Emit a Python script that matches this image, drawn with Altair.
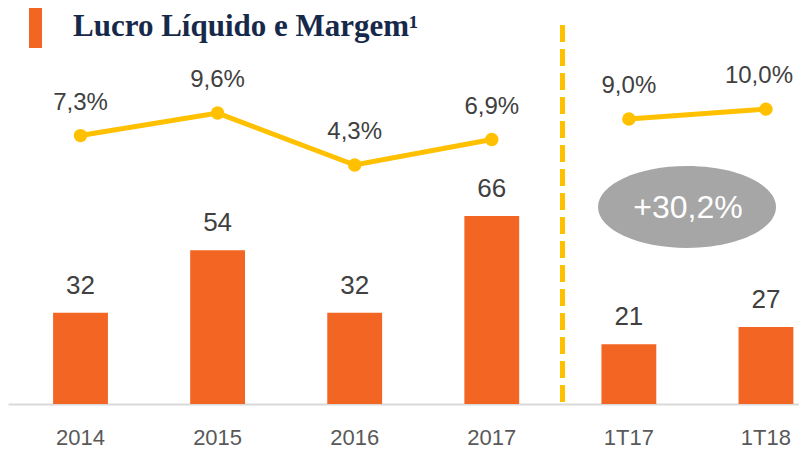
import altair as alt
import pandas as pd

# ---- data ----
categories = ["2014", "2015", "2016", "2017", "1T17", "1T18"]
lucro = [32, 54, 32, 66, 21, 27]
lucro_labels = ["32", "54", "32", "66", "21", "27"]
margem = [7.3, 9.6, 4.3, 6.9, 9.0, 10.0]
margem_labels = ["7,3%", "9,6%", "4,3%", "6,9%", "9,0%", "10,0%"]
grupo = ["Anual", "Anual", "Anual", "Anual", "Trimestral", "Trimestral"]
titulo = ["Lucro Líquido e Margem¹"]
crescimento = ["+30,2%"]

df = pd.DataFrame({
    "cat": categories,
    "lucro": lucro,
    "lucro_lbl": lucro_labels,
    "margem": margem,
    "margem_lbl": margem_labels,
    "grupo": grupo,
})

ORANGE = "#F26522"
YELLOW = "#FFC000"
GRAY_TXT = "#404040"

x_enc = alt.X(
    "cat:N",
    sort=categories,
    scale=alt.Scale(paddingInner=0.6, paddingOuter=0.185, align=0.889),
    axis=alt.Axis(
        title=None, labelAngle=0, ticks=False, domainColor="#D9D9D9",
        domainWidth=2, labelFontSize=22, labelColor="#595959",
        labelFont="Liberation Sans", labelPadding=23, grid=False,
    ),
)
y_bar = alt.Y("lucro:Q", scale=alt.Scale(domain=[0, 139], nice=False, zero=True), axis=None)
y_line = alt.Y("margem:Q", scale=alt.Scale(domain=[-20.09, 20.32], nice=False, zero=False), axis=None)

base = alt.Chart(df)

bars = base.mark_bar(color=ORANGE).encode(x=x_enc, y=y_bar)
bar_text = base.mark_text(
    dy=-19, baseline="alphabetic", fontSize=26, font="Liberation Sans", color=GRAY_TXT
).encode(x=x_enc, y=y_bar, text="lucro_lbl:N")

line = base.mark_line(color=YELLOW, strokeWidth=5).encode(x=x_enc, y=y_line, detail="grupo:N")
points = base.mark_circle(color=YELLOW, size=180, opacity=1).encode(x=x_enc, y=y_line)
line_text = base.transform_filter(alt.datum.cat != "1T18").mark_text(
    dy=-26, baseline="alphabetic", fontSize=24, font="Liberation Sans", color=GRAY_TXT
).encode(x=x_enc, y=y_line, text="margem_lbl:N")
line_text_last = base.transform_filter(alt.datum.cat == "1T18").mark_text(
    dy=-26, dx=-7, baseline="alphabetic", fontSize=24, font="Liberation Sans", color=GRAY_TXT
).encode(x=x_enc, y=y_line, text="margem_lbl:N")

sep = alt.Chart(pd.DataFrame({"k": [0]})).mark_rule(
    color=YELLOW, strokeWidth=5, strokeDash=[17, 7]
).encode(x=alt.value(554.5), y=alt.value(17), y2=alt.value(396))

ell_df = pd.DataFrame({"t": crescimento})
ellipse = alt.Chart(ell_df).mark_point(
    shape="M-1,0 A1,0.46 0 1,1 1,0 A1,0.46 0 1,1 -1,0 Z",
    filled=True, color="#A6A6A6", opacity=1, size=31684, strokeWidth=0,
).encode(x=alt.value(679), y=alt.value(199))
ell_text = alt.Chart(ell_df).mark_text(
    fontSize=32, font="Liberation Sans", color="white", align="center", baseline="middle"
).encode(x=alt.value(680), y=alt.value(200), text="t:N")

title_df = pd.DataFrame({"t": titulo})
title_txt = alt.Chart(title_df).mark_text(
    fontSize=31, font="Liberation Serif", fontWeight="bold", color="#17294A",
    align="left", baseline="alphabetic",
).encode(x=alt.value(65), y=alt.value(28), text="t:N")
title_rect = alt.Chart(title_df).mark_rect(color=ORANGE).encode(
    x=alt.value(21), x2=alt.value(34), y=alt.value(0), y2=alt.value(40)
)

chart = alt.layer(
    bars, bar_text, sep, line, points, line_text, line_text_last,
    ellipse, ell_text, title_txt, title_rect
).resolve_scale(y="independent").properties(
    width=791, height=396,
    autosize=alt.AutoSizeParams(type="none"),
    padding={"left": 0, "top": 0, "right": 0, "bottom": 46},
).configure_view(stroke=None)

chart.save("out.html", embed_options={"renderer": "svg", "actions": False})
